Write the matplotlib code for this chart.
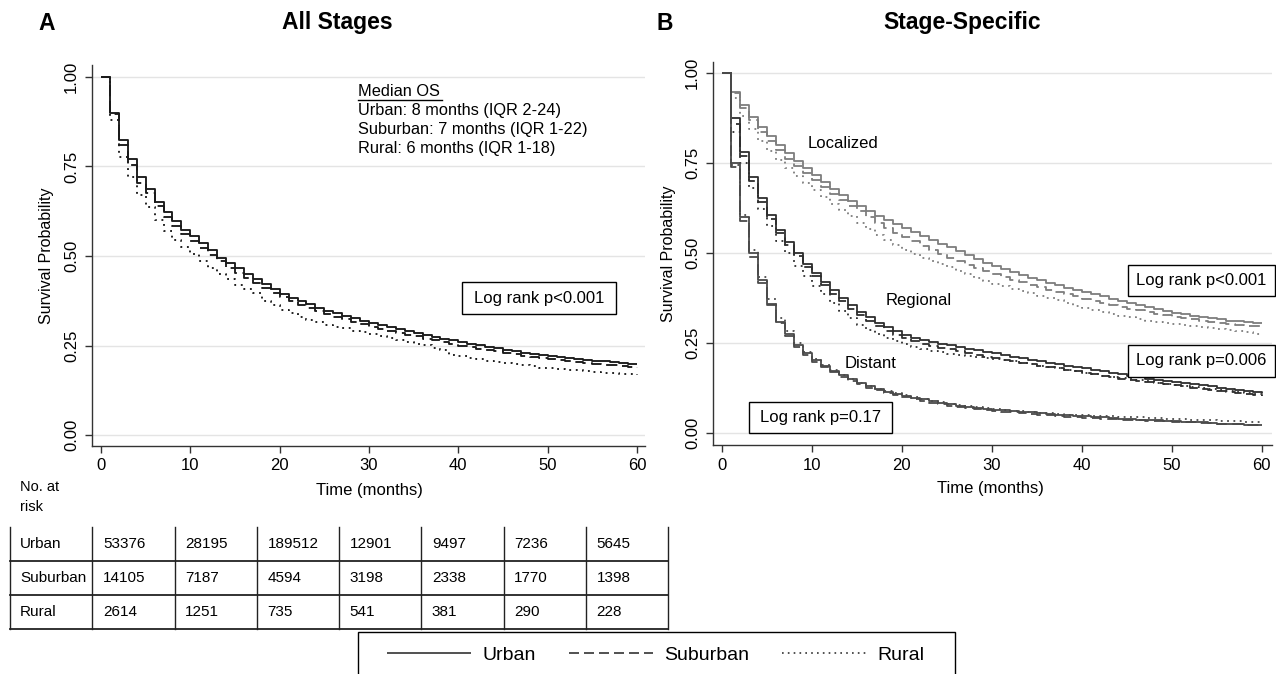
import numpy as np
import matplotlib
matplotlib.use("Agg")
import matplotlib.pyplot as plt
from matplotlib.lines import Line2D
from matplotlib.patches import Rectangle

plt.rcParams['font.family'] = ['Liberation Sans', 'DejaVu Sans']

# ---------------- data ----------------
months = list(range(61))
x_ticks = [0, 10, 20, 30, 40, 50, 60]
y_ticks = [0.0, 0.25, 0.5, 0.75, 1.0]
y_tick_labels = ["0.00", "0.25", "0.50", "0.75", "1.00"]
groups = ["Urban", "Suburban", "Rural"]

# Panel A: all stages
all_urban = [1.000, 0.900, 0.824, 0.770, 0.721, 0.686, 0.652, 0.624, 0.598, 0.574,
             0.555, 0.536, 0.517, 0.496, 0.480, 0.466, 0.450, 0.435, 0.421, 0.407,
             0.394, 0.384, 0.375, 0.365, 0.356, 0.348, 0.340, 0.333, 0.326, 0.319,
             0.313, 0.307, 0.301, 0.296, 0.290, 0.285, 0.280, 0.275, 0.270, 0.265,
             0.260, 0.255, 0.251, 0.247, 0.243, 0.239, 0.235, 0.231, 0.228, 0.225,
             0.222, 0.219, 0.216, 0.213, 0.211, 0.208, 0.206, 0.204, 0.202, 0.200,
             0.198]
all_suburban = [1.000, 0.895, 0.810, 0.754, 0.705, 0.675, 0.640, 0.610, 0.585, 0.562,
                0.542, 0.522, 0.503, 0.485, 0.468, 0.454, 0.440, 0.425, 0.411, 0.398,
                0.386, 0.375, 0.364, 0.355, 0.347, 0.339, 0.331, 0.324, 0.317, 0.310,
                0.303, 0.297, 0.291, 0.286, 0.281, 0.276, 0.270, 0.265, 0.260, 0.255,
                0.250, 0.246, 0.242, 0.238, 0.234, 0.230, 0.226, 0.222, 0.219, 0.216,
                0.213, 0.210, 0.207, 0.204, 0.202, 0.199, 0.197, 0.195, 0.193, 0.191,
                0.189]
all_rural = [1.000, 0.880, 0.777, 0.721, 0.670, 0.638, 0.600, 0.571, 0.545, 0.525,
             0.505, 0.487, 0.468, 0.450, 0.435, 0.420, 0.408, 0.396, 0.376, 0.363,
             0.350, 0.340, 0.330, 0.322, 0.315, 0.309, 0.303, 0.298, 0.292, 0.287,
             0.282, 0.277, 0.272, 0.266, 0.261, 0.256, 0.251, 0.243, 0.237, 0.225,
             0.220, 0.216, 0.212, 0.208, 0.204, 0.201, 0.198, 0.195, 0.192, 0.189,
             0.187, 0.185, 0.183, 0.181, 0.179, 0.177, 0.175, 0.173, 0.172, 0.170,
             0.169]

# Panel B: stage-specific
loc_urban = [1.000, 0.949, 0.912, 0.879, 0.850, 0.826, 0.800, 0.778, 0.757, 0.736,
             0.716, 0.697, 0.678, 0.661, 0.645, 0.630, 0.616, 0.603, 0.592, 0.581,
             0.570, 0.560, 0.549, 0.538, 0.527, 0.516, 0.505, 0.494, 0.483, 0.473,
             0.464, 0.455, 0.447, 0.439, 0.432, 0.425, 0.418, 0.411, 0.404, 0.398,
             0.392, 0.386, 0.380, 0.374, 0.368, 0.362, 0.356, 0.350, 0.345, 0.340,
             0.335, 0.330, 0.326, 0.322, 0.319, 0.316, 0.313, 0.311, 0.309, 0.307,
             0.305]
loc_suburban = [1.000, 0.945, 0.903, 0.870, 0.838, 0.812, 0.787, 0.763, 0.742, 0.722,
                0.702, 0.683, 0.665, 0.648, 0.632, 0.616, 0.600, 0.585, 0.570, 0.557,
                0.545, 0.533, 0.521, 0.509, 0.498, 0.488, 0.478, 0.468, 0.459, 0.450,
                0.441, 0.433, 0.426, 0.419, 0.412, 0.405, 0.398, 0.392, 0.386, 0.380,
                0.374, 0.368, 0.362, 0.357, 0.352, 0.346, 0.341, 0.336, 0.332, 0.328,
                0.324, 0.320, 0.316, 0.312, 0.309, 0.306, 0.303, 0.301, 0.299, 0.297,
                0.295]
loc_rural = [1.000, 0.930, 0.880, 0.845, 0.812, 0.785, 0.760, 0.737, 0.715, 0.695,
             0.676, 0.657, 0.638, 0.620, 0.602, 0.585, 0.568, 0.552, 0.537, 0.523,
             0.510, 0.498, 0.488, 0.479, 0.470, 0.462, 0.452, 0.442, 0.432, 0.423,
             0.415, 0.408, 0.401, 0.395, 0.389, 0.382, 0.376, 0.369, 0.362, 0.354,
             0.347, 0.342, 0.337, 0.332, 0.327, 0.322, 0.317, 0.312, 0.309, 0.306,
             0.303, 0.300, 0.297, 0.294, 0.292, 0.289, 0.286, 0.283, 0.280, 0.277,
             0.273]
reg_urban = [1.000, 0.875, 0.782, 0.713, 0.653, 0.606, 0.565, 0.532, 0.500, 0.470,
             0.445, 0.421, 0.398, 0.375, 0.355, 0.338, 0.322, 0.307, 0.294, 0.283,
             0.273, 0.265, 0.259, 0.254, 0.249, 0.245, 0.240, 0.235, 0.231, 0.226,
             0.222, 0.217, 0.213, 0.208, 0.204, 0.200, 0.196, 0.192, 0.188, 0.184,
             0.180, 0.176, 0.172, 0.168, 0.164, 0.160, 0.156, 0.152, 0.148, 0.145,
             0.142, 0.139, 0.136, 0.133, 0.130, 0.127, 0.124, 0.121, 0.118, 0.115,
             0.112]
reg_suburban = [1.000, 0.860, 0.770, 0.700, 0.642, 0.596, 0.556, 0.522, 0.492, 0.462,
                0.436, 0.411, 0.388, 0.366, 0.346, 0.329, 0.313, 0.298, 0.285, 0.274,
                0.264, 0.256, 0.249, 0.243, 0.238, 0.233, 0.228, 0.223, 0.218, 0.213,
                0.209, 0.204, 0.200, 0.196, 0.192, 0.188, 0.184, 0.180, 0.176, 0.172,
                0.168, 0.164, 0.160, 0.156, 0.152, 0.148, 0.145, 0.142, 0.139, 0.136,
                0.133, 0.130, 0.127, 0.124, 0.121, 0.118, 0.115, 0.112, 0.109, 0.106,
                0.103]
reg_rural = [1.000, 0.838, 0.750, 0.680, 0.622, 0.575, 0.535, 0.500, 0.465, 0.436,
             0.410, 0.386, 0.362, 0.340, 0.320, 0.302, 0.288, 0.275, 0.264, 0.255,
             0.247, 0.240, 0.234, 0.229, 0.225, 0.221, 0.218, 0.215, 0.212, 0.209,
             0.206, 0.203, 0.200, 0.196, 0.192, 0.188, 0.184, 0.180, 0.176, 0.172,
             0.168, 0.164, 0.160, 0.156, 0.153, 0.150, 0.147, 0.144, 0.141, 0.138,
             0.135, 0.132, 0.129, 0.126, 0.123, 0.120, 0.117, 0.114, 0.111, 0.108,
             0.105]
dist_urban = [1.000, 0.750, 0.600, 0.500, 0.425, 0.360, 0.310, 0.275, 0.245, 0.222,
              0.203, 0.187, 0.173, 0.161, 0.150, 0.140, 0.131, 0.123, 0.116, 0.110,
              0.104, 0.099, 0.094, 0.089, 0.085, 0.081, 0.077, 0.074, 0.071, 0.068,
              0.066, 0.064, 0.062, 0.060, 0.058, 0.056, 0.054, 0.052, 0.050, 0.049,
              0.047, 0.046, 0.044, 0.043, 0.041, 0.040, 0.038, 0.037, 0.036, 0.034,
              0.033, 0.032, 0.031, 0.030, 0.029, 0.027, 0.026, 0.025, 0.024, 0.023,
              0.022]
dist_suburban = [1.000, 0.740, 0.590, 0.490, 0.418, 0.355, 0.305, 0.270, 0.240, 0.218,
                 0.199, 0.183, 0.169, 0.157, 0.146, 0.136, 0.127, 0.119, 0.112, 0.106,
                 0.100, 0.095, 0.090, 0.085, 0.081, 0.077, 0.073, 0.070, 0.067, 0.064,
                 0.062, 0.060, 0.058, 0.056, 0.054, 0.052, 0.050, 0.048, 0.046, 0.045,
                 0.043, 0.042, 0.041, 0.040, 0.038, 0.037, 0.036, 0.035, 0.034, 0.033,
                 0.032, 0.031, 0.030, 0.029, 0.028, 0.027, 0.026, 0.025, 0.024, 0.023,
                 0.022]
dist_rural = [1.000, 0.745, 0.605, 0.510, 0.435, 0.372, 0.320, 0.283, 0.252, 0.227,
              0.207, 0.190, 0.175, 0.162, 0.151, 0.141, 0.132, 0.124, 0.117, 0.111,
              0.105, 0.100, 0.095, 0.090, 0.086, 0.082, 0.078, 0.075, 0.072, 0.069,
              0.067, 0.065, 0.063, 0.061, 0.059, 0.057, 0.055, 0.054, 0.052, 0.051,
              0.050, 0.049, 0.048, 0.047, 0.046, 0.045, 0.044, 0.043, 0.042, 0.041,
              0.040, 0.039, 0.038, 0.037, 0.036, 0.035, 0.034, 0.033, 0.032, 0.031,
              0.030]

# number at risk table
risk_times = ["0", "10", "20", "30", "40", "50", "60"]
risk_urban = ["53376", "28195", "189512", "12901", "9497", "7236", "5645"]
risk_suburban = ["14105", "7187", "4594", "3198", "2338", "1770", "1398"]
risk_rural = ["2614", "1251", "735", "541", "381", "290", "228"]

median_lines = ["Urban: 8 months (IQR 2-24)",
                "Suburban: 7 months (IQR 1-22)",
                "Rural: 6 months (IQR 1-18)"]

# ---------------- layout helpers ----------------
W, H = 1276, 674
fig = plt.figure(figsize=(W / 100, H / 100), dpi=100)


def rect(l, t, r, b):
    return [l / W, 1 - b / H, (r - l) / W, (b - t) / H]


def fx(x):
    return x / W


def fy(y):
    return 1 - y / H


styles = {"Urban": (0, ()), "Suburban": (0, (6, 3)), "Rural": (0, (1, 2.5))}


def style_axes(ax, xlim, ylim):
    ax.set_xlim(*xlim)
    ax.set_ylim(*ylim)
    ax.set_xticks(x_ticks)
    ax.set_yticks(y_ticks)
    ax.set_yticklabels(y_tick_labels, rotation=90, va='center')
    for s in ["top", "right"]:
        ax.spines[s].set_visible(False)
    for s in ["left", "bottom"]:
        ax.spines[s].set_color("#333333")
        ax.spines[s].set_linewidth(1.0)
    ax.tick_params(direction='out', length=5, width=1, color="#333333",
                   labelsize=12, pad=4)
    for yv in y_ticks:
        ax.axhline(yv, color="#e4e4e4", lw=1.0, zorder=0)
    ax.set_facecolor("white")


# ---------------- Panel A ----------------
axA = fig.add_axes(rect(91.7, 65, 645, 446))
style_axes(axA, (-1.04, 60.9), (-0.0298, 1.033))
for name, vals in zip(groups, [all_urban, all_suburban, all_rural]):
    axA.step(months, vals, where='post', color="#1a1a1a", lw=1.35,
             linestyle=styles[name])

# ---------------- Panel B ----------------
axB = fig.add_axes(rect(712.7, 62, 1271.7, 445))
style_axes(axB, (-1.0, 61.1), (-0.0325, 1.031))
stage_sets = [
    ([loc_urban, loc_suburban, loc_rural], "#7d7d7d"),
    ([reg_urban, reg_suburban, reg_rural], "#2e2e2e"),
    ([dist_urban, dist_suburban, dist_rural], "#4a4a4a"),
]
for series, col in stage_sets:
    for name, vals in zip(groups, series):
        axB.step(months, vals, where='post', color=col, lw=1.3,
                 linestyle=styles[name])

# titles
TS = 16.5
fig.text(fx(38), fy(23), "A", fontsize=TS, fontweight='bold', ha='left', va='center')
fig.text(fx(337), fy(23), "All Stages", fontsize=TS, fontweight='bold',
         ha='center', va='center')
fig.text(fx(657), fy(23), "B", fontsize=TS, fontweight='bold', ha='left', va='center')
fig.text(fx(962), fy(23), "Stage-Specific", fontsize=TS, fontweight='bold',
         ha='center', va='center')

# axis labels
fig.text(fx(47), fy(256), "Survival Probability", rotation=90, fontsize=11.5,
         ha='center', va='center')
fig.text(fx(668), fy(254), "Survival Probability", rotation=90, fontsize=11.5,
         ha='center', va='center')
fig.text(fx(369), fy(490), "Time (months)", fontsize=12, ha='center', va='center')
fig.text(fx(990), fy(488), "Time (months)", fontsize=12, ha='center', va='center')

# median OS block
MS = 11.8
fig.text(fx(358), fy(91), "Median OS", fontsize=MS, ha='left', va='center')
fig.add_artist(Line2D([fx(358), fx(442)], [fy(99.5), fy(99.5)], color='black',
                      lw=1.0, transform=fig.transFigure))
for i, txt in enumerate(median_lines):
    fig.text(fx(358), fy(110 + 19.5 * i), txt, fontsize=MS, ha='left', va='center')


def boxed(l, t, r, b, txt):
    fig.add_artist(Rectangle((fx(l), fy(b)), (r - l) / W, (b - t) / H,
                             transform=fig.transFigure, fill=True, fc='white',
                             ec='black', lw=1.0, zorder=5))
    fig.text(fx((l + r) / 2), fy((t + b) / 2), txt, fontsize=12, ha='center',
             va='center', zorder=6)


boxed(462, 282, 616, 314, "Log rank p<0.001")
boxed(1128, 265, 1275, 296, "Log rank p<0.001")
boxed(1128, 345, 1275, 377, "Log rank p=0.006")
boxed(749, 402, 892, 433, "Log rank p=0.17")

fig.text(fx(843), fy(143), "Localized", fontsize=12, ha='center', va='center')
fig.text(fx(919), fy(301), "Regional", fontsize=12, ha='center', va='center')
fig.text(fx(871), fy(363), "Distant", fontsize=12, ha='center', va='center')

# ---------------- number at risk table ----------------
fig.text(fx(20), fy(487), "No. at", fontsize=10.5, ha='left', va='center')
fig.text(fx(20), fy(507), "risk", fontsize=10.5, ha='left', va='center')

axT = fig.add_axes(rect(10, 527, 668, 629))
axT.set_xlim(0, 8)
axT.set_ylim(3, 0)
axT.axis('off')
for c in range(9):
    axT.plot([c, c], [0, 3], color='#222222', lw=1.0, clip_on=False)
for r in [1, 2, 3]:
    axT.plot([0, 8], [r, r], color='#222222', lw=1.3, clip_on=False)
for r, (name, row) in enumerate(zip(groups, [risk_urban, risk_suburban, risk_rural])):
    axT.text(0.12, r + 0.5, name, fontsize=11, ha='left', va='center')
    for c, val in enumerate(row):
        axT.text(c + 1.13, r + 0.5, val, fontsize=11, ha='left', va='center')

# ---------------- legend ----------------
fig.add_artist(Rectangle((fx(358), fy(690)), (955 - 358) / W, (690 - 632) / H,
                         transform=fig.transFigure, fill=False, ec='black', lw=1.0))
handles = [Line2D([], [], color='#333333', lw=1.2, linestyle=styles[g]) for g in groups]
leg = fig.legend(handles, groups, loc='upper center',
                 bbox_to_anchor=(fx(656), fy(632)), ncol=3, frameon=False,
                 fontsize=14, handlelength=4.3,
                 columnspacing=1.7, handletextpad=0.6, borderpad=0.75,
                 borderaxespad=0.0)

fig.savefig("out.png", dpi=100)
